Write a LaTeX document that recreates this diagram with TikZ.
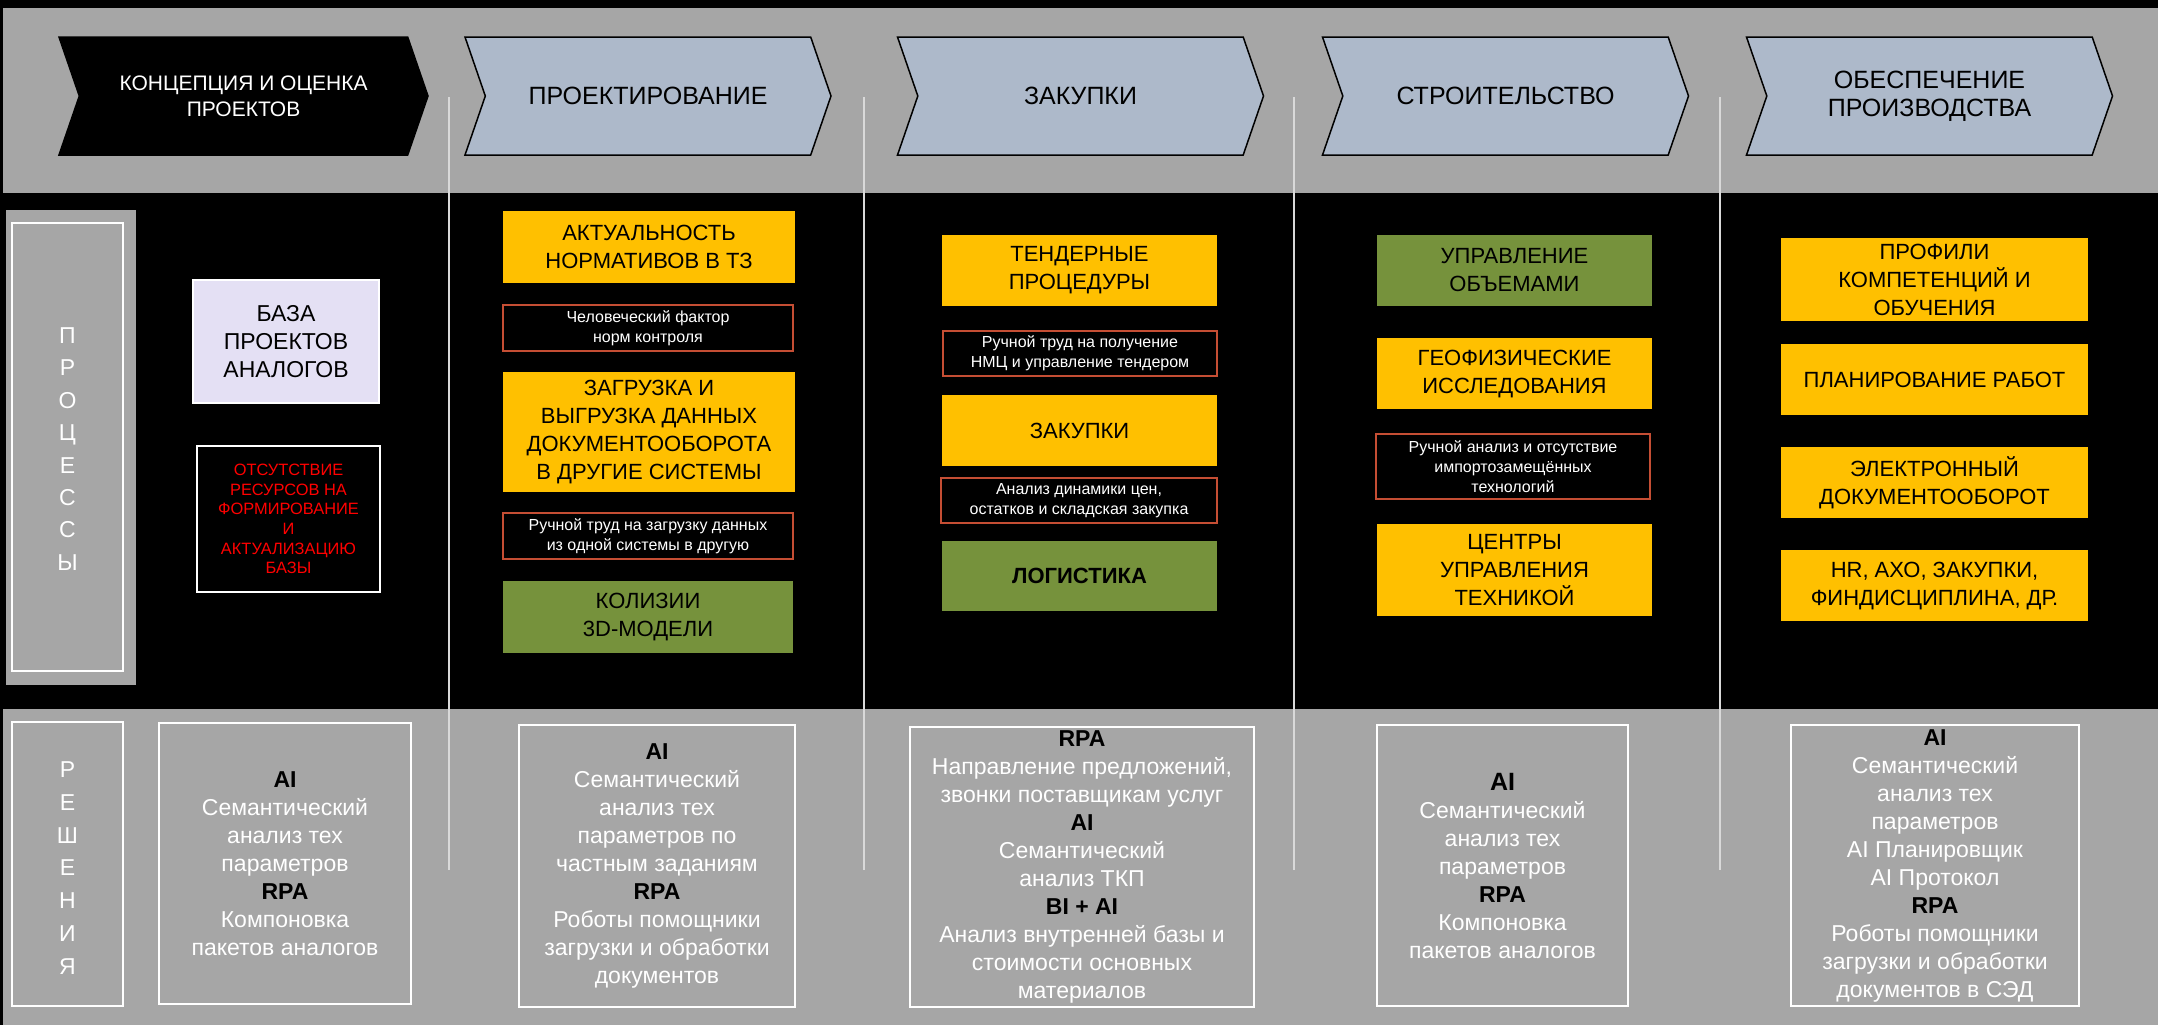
\documentclass[tikz,border=0pt]{standalone}
\usepackage{fontspec}
\setmainfont{Liberation Sans}
\usetikzlibrary{shapes.symbols}
\definecolor{bandgray}{RGB}{166,166,166}
\definecolor{chev}{RGB}{173,185,202}
\definecolor{ylw}{RGB}{255,192,0}
\definecolor{grn}{RGB}{118,146,60}
\definecolor{lav}{RGB}{228,224,244}
\definecolor{redbd}{RGB}{197,78,52}
\definecolor{sepc}{RGB}{217,217,217}
\definecolor{redtxt}{RGB}{255,0,0}
\newcommand{\solhead}[1]{{\color{black}\bfseries #1}}
\tikzset{
  chevron/.style={signal, signal to=east, signal from=west, signal pointer angle=142,
    minimum height=59pt, minimum width=183pt, inner sep=0pt, draw=black, line width=0.75pt,
    fill=chev, align=center, font=\fontsize{12.5}{14}\selectfont},
  proc/.style={rectangle, inner sep=0pt, align=center, text=black, font=\fontsize{11}{14}\selectfont},
  yel/.style={proc, fill=ylw},
  gre/.style={proc, fill=grn},
  issue/.style={rectangle, inner sep=0pt, draw=redbd, line width=1.2pt, fill=black, text=white,
    align=center, font=\fontsize{8}{10}\selectfont},
  sol/.style={rectangle, inner sep=0pt, draw=white, line width=1pt, align=center, text=white,
    font=\fontsize{11.5}{14}\selectfont},
  sep/.style={draw=sepc, line width=0.75pt},
  vlabel/.style={align=center, text=white, inner sep=0pt},
}
\begin{document}
\begin{tikzpicture}[x=0.5pt,y=-0.5pt]
\useasboundingbox (0,0) rectangle (2158,1025);
% backgrounds
\fill[black] (0,0) rectangle (2158,1025);
\fill[bandgray] (3,8) rectangle (2158,193);
\fill[bandgray] (3,709) rectangle (2158,1025);
% separators
\foreach \i/\x in {1/449,2/864,3/1294,4/1720}{
  \coordinate (sa\i) at (\x,97);
  \coordinate (sb\i) at (\x,870);
}
\foreach \i in {1,2,3,4}{ \draw[sep] (sa\i) -- (sb\i); }
% header chevrons
\node[chevron, fill=black, draw=black, text=white, minimum width=184.5pt, font=\fontsize{10.5}{13}\selectfont] (h1) at (243.5,96) {КОНЦЕПЦИЯ И ОЦЕНКА\\ПРОЕКТОВ};
\node[chevron] (h2) at (648,96) {ПРОЕКТИРОВАНИЕ};
\node[chevron] (h3) at (1080.5,96) {ЗАКУПКИ};
\node[chevron] (h4) at (1505.5,96) {СТРОИТЕЛЬСТВО};
\node[chevron] (h5) at (1929.5,96) {ОБЕСПЕЧЕНИЕ\\ПРОИЗВОДСТВА};
% left labels
\node[fill=bandgray, minimum width=65pt, minimum height=237.5pt, inner sep=0pt] (procbg) at (71,447.5) {};
\node[draw=white, line width=1pt, minimum width=55.5pt, minimum height=224pt, inner sep=0pt] (procfr) at (67.5,447) {};
\node[vlabel, font=\fontsize{11.5}{16.2}\selectfont] (proctxt) at (67.5,449) {П\\Р\\О\\Ц\\Е\\С\\С\\Ы};
\node[draw=white, line width=1pt, minimum width=55.5pt, minimum height=142pt, inner sep=0pt] (solfr) at (67.5,864) {};
\node[vlabel, font=\fontsize{11.5}{16.35}\selectfont] (soltxt) at (67.5,868) {Р\\Е\\Ш\\Е\\Н\\И\\Я};
% column 1
\node[proc, fill=lav, draw=white, line width=1pt, minimum width=93pt, minimum height=61.5pt, font=\fontsize{11.5}{14}\selectfont] (baza) at (286,341.5) {БАЗА\\ПРОЕКТОВ\\АНАЛОГОВ};
\node[rectangle, inner sep=0pt, draw=white, line width=1pt, fill=black, text=redtxt, align=center, font=\fontsize{8.2}{9.85}\selectfont, minimum width=91.5pt, minimum height=73pt] (otsut) at (288.5,519) {ОТСУТСТВИЕ\\РЕСУРСОВ НА\\ФОРМИРОВАНИЕ\\И\\АКТУАЛИЗАЦИЮ\\БАЗЫ};
% column 2
\node[yel, minimum width=146pt, minimum height=36pt] (c2a) at (649,247) {АКТУАЛЬНОСТЬ\\НОРМАТИВОВ В ТЗ};
\node[issue, minimum width=145pt, minimum height=23pt] (c2r1) at (648,328) {Человеческий фактор\\норм контроля};
\node[yel, minimum width=146pt, minimum height=60pt] (c2b) at (649,432) {ЗАГРУЗКА И\\ВЫГРУЗКА ДАННЫХ\\ДОКУМЕНТООБОРОТА\\В ДРУГИЕ СИСТЕМЫ};
\node[issue, minimum width=145pt, minimum height=23pt] (c2r2) at (648,536) {Ручной труд на загрузку данных\\из одной системы в другую};
\node[gre, minimum width=145pt, minimum height=36pt] (c2c) at (648,617) {КОЛИЗИИ\\3D-МОДЕЛИ};
% column 3
\node[yel, minimum width=137.5pt, minimum height=35.5pt] (c3a) at (1079.5,270.5) {ТЕНДЕРНЫЕ\\ПРОЦЕДУРЫ};
\node[issue, minimum width=137pt, minimum height=22.5pt] (c3r1) at (1080,353.5) {Ручной труд на получение\\НМЦ и управление тендером};
\node[yel, minimum width=137.5pt, minimum height=35.5pt] (c3b) at (1079.5,430.5) {ЗАКУПКИ};
\node[issue, minimum width=138pt, minimum height=22.5pt] (c3r2) at (1079,500.5) {Анализ динамики цен,\\остатков и складская закупка};
\node[gre, minimum width=137.5pt, minimum height=35pt, font=\fontsize{11}{14}\selectfont\bfseries] (c3c) at (1079.5,576) {ЛОГИСТИКА};
% column 4
\node[gre, minimum width=137.5pt, minimum height=35.5pt] (c4a) at (1514.5,270.5) {УПРАВЛЕНИЕ\\ОБЪЕМАМИ};
\node[yel, minimum width=137.5pt, minimum height=35.5pt] (c4b) at (1514.5,373.5) {ГЕОФИЗИЧЕСКИЕ\\ИССЛЕДОВАНИЯ};
\node[issue, minimum width=137pt, minimum height=32.5pt] (c4r) at (1513,466.5) {Ручной анализ и отсутствие\\импортозамещённых\\технологий};
\node[yel, minimum width=137.5pt, minimum height=46pt] (c4c) at (1514.5,570) {ЦЕНТРЫ\\УПРАВЛЕНИЯ\\ТЕХНИКОЙ};
% column 5
\node[yel, minimum width=153.5pt, minimum height=41.5pt] (c5a) at (1934.5,279.5) {ПРОФИЛИ\\КОМПЕТЕНЦИЙ И\\ОБУЧЕНИЯ};
\node[yel, minimum width=153.5pt, minimum height=35.5pt] (c5b) at (1934.5,379.5) {ПЛАНИРОВАНИЕ РАБОТ};
\node[yel, minimum width=153.5pt, minimum height=35.5pt] (c5c) at (1934.5,482.5) {ЭЛЕКТРОННЫЙ\\ДОКУМЕНТООБОРОТ};
\node[yel, minimum width=153.5pt, minimum height=35.5pt] (c5d) at (1934.5,585.5) {HR, АХО, ЗАКУПКИ,\\ФИНДИСЦИПЛИНА, ДР.};
% solutions
\node[sol, minimum width=126pt, minimum height=140.5pt] (s1) at (285,863.5) {\solhead{AI}\\Семантический\\анализ тех\\параметров\\\solhead{RPA}\\Компоновка\\пакетов аналогов};
\node[sol, minimum width=138pt, minimum height=141pt] (s2) at (657,866) {\solhead{AI}\\Семантический\\анализ тех\\параметров по\\частным заданиям\\\solhead{RPA}\\Роботы помощники\\загрузки и обработки\\документов};
\node[sol, minimum width=172pt, minimum height=140pt] (s3) at (1082,867) {\solhead{RPA}\\Направление предложений,\\звонки поставщикам услуг\\\solhead{AI}\\Семантический\\анализ ТКП\\\solhead{BI + AI}\\Анализ внутренней базы и\\стоимости основных\\материалов};
\node[sol, minimum width=125.5pt, minimum height=140.5pt] (s4) at (1502.5,865.5) {{\color{black}\fontsize{12.5}{14}\selectfont\bfseries AI}\\Семантический\\анализ тех\\параметров\\\solhead{RPA}\\Компоновка\\пакетов аналогов};
\node[sol, minimum width=144pt, minimum height=140.5pt] (s5) at (1935,865.5) {\solhead{AI}\\Семантический\\анализ тех\\параметров\\AI Планировщик\\AI Протокол\\\solhead{RPA}\\Роботы помощники\\загрузки и обработки\\документов в СЭД};
\end{tikzpicture}
\end{document}
